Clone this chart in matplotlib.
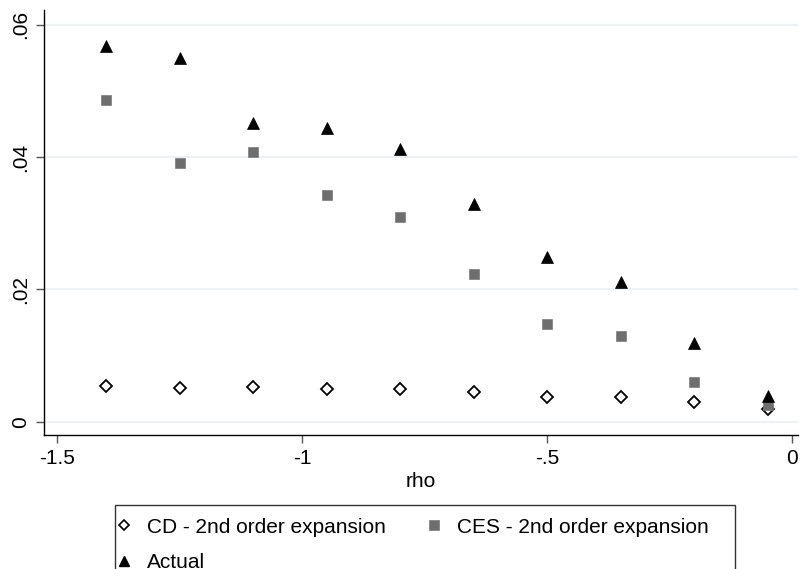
import matplotlib
matplotlib.use("Agg")
import matplotlib.pyplot as plt
from matplotlib.lines import Line2D
from matplotlib.patches import Rectangle

plt.rcParams['font.family'] = ['Liberation Sans', 'DejaVu Sans']

rho = [-1.4, -1.25, -1.1, -0.95, -0.8, -0.65, -0.5, -0.35, -0.2, -0.05]
cd_2nd = [0.0054, 0.0051, 0.0052, 0.0049, 0.0050, 0.0045, 0.0038, 0.0038, 0.0030, 0.0019]
ces_2nd = [0.0486, 0.0391, 0.0408, 0.0343, 0.0310, 0.0223, 0.0148, 0.0129, 0.0060, 0.0025]
actual = [0.0568, 0.0549, 0.0452, 0.0443, 0.0412, 0.0329, 0.0249, 0.0211, 0.0119, 0.0039]

xticks = [-1.5, -1.0, -0.5, 0.0]
xticklabels = ['-1.5', '-1', '-.5', '0']
yticks = [0.0, 0.02, 0.04, 0.06]
yticklabels = ['0', '.02', '.04', '.06']

labels = ['CD - 2nd order expansion', 'CES - 2nd order expansion', 'Actual']

W, H = 800, 569
fig = plt.figure(figsize=(8, 5.69), dpi=100)
ax = fig.add_axes([44 / W, 1 - 435 / H, (798 - 44) / W, (435 - 10) / H])

ax.set_xlim(-1.5266, 0.0122)
ax.set_ylim(-0.0020, 0.0622)

for s in ['top', 'right']:
    ax.spines[s].set_visible(False)
for s in ['left', 'bottom']:
    ax.spines[s].set_linewidth(1.0)
    ax.spines[s].set_color('black')

ax.set_yticks(yticks)
ax.set_yticklabels(yticklabels, rotation=90, va='center')
ax.set_xticks(xticks)
ax.set_xticklabels(xticklabels)
ax.tick_params(axis='both', length=6, width=1.0, color='#555555', labelsize=15, pad=4)
ax.grid(axis='y', color='#e8eff2', linewidth=1.2)
ax.set_axisbelow(True)

h1, = ax.plot(rho, cd_2nd, linestyle='none', marker='D', markersize=6.2,
              markerfacecolor='white', markeredgecolor='black', markeredgewidth=1.3)
h2, = ax.plot(rho, ces_2nd, linestyle='none', marker='s', markersize=7.8,
              markerfacecolor='#6e6e6e', markeredgecolor='#7a7a7a', markeredgewidth=0.5)
h3, = ax.plot(rho, actual, linestyle='none', marker='^', markersize=8.3,
              markerfacecolor='black', markeredgecolor='black', markeredgewidth=0.5)

ax.set_xlabel('rho', fontsize=15, labelpad=3)

# legend frame
fig.patches.append(Rectangle((115 / W, 1 - 590 / H), (735 - 115) / W, (590 - 505) / H,
                             transform=fig.transFigure, fill=False,
                             edgecolor='#333333', linewidth=1.0))

leg_h = [Line2D([], [], linestyle='none', marker='D', markersize=5.2,
                markerfacecolor='white', markeredgecolor='black', markeredgewidth=1.2),
         Line2D([], [], linestyle='none', marker='^', markersize=7.0,
                markerfacecolor='black', markeredgecolor='black'),
         Line2D([], [], linestyle='none', marker='s', markersize=6.5,
                markerfacecolor='#6e6e6e', markeredgecolor='#7a7a7a', markeredgewidth=0.5)]
leg_l = [labels[0], labels[2], labels[1]]
fig.legend(leg_h, leg_l, ncol=2, loc='upper left',
           bbox_to_anchor=(120 / W, 1 - 517.7 / H), frameon=False,
           fontsize=15, handlelength=0.4, handletextpad=0.91,
           borderpad=0, borderaxespad=0, labelspacing=0.79, columnspacing=2.1)

fig.savefig('out.png', dpi=100)
